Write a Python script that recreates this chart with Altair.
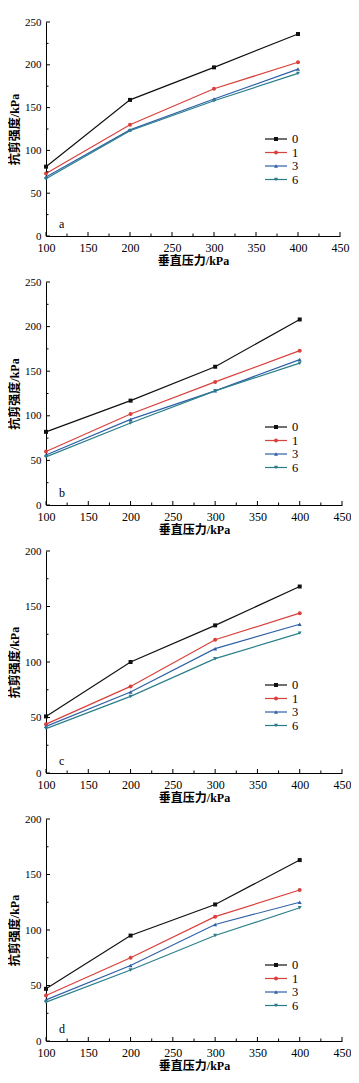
import altair as alt
import pandas as pd

# ---------------- data ----------------
pressure = [100, 200, 300, 400]
series = ["0", "1", "3", "6"]
panel_names = ["a", "b", "c", "d"]

a_s0 = [81, 159, 197, 236]
a_s1 = [73, 130, 172, 203]
a_s3 = [69, 124, 160, 195]
a_s6 = [67, 123, 158, 190]

b_s0 = [82, 117, 155, 208]
b_s1 = [60, 102, 138, 173]
b_s3 = [56, 96, 128, 163]
b_s6 = [54, 92, 128, 159]

c_s0 = [51, 100, 133, 168]
c_s1 = [44, 78, 120, 144]
c_s3 = [42, 73, 112, 134]
c_s6 = [40, 69, 103, 126]

d_s0 = [47, 95, 123, 163]
d_s1 = [41, 75, 112, 136]
d_s3 = [37, 68, 105, 125]
d_s6 = [35, 64, 95, 120]

y_max = [250, 250, 200, 200]
x_ticks = [100, 150, 200, 250, 300, 350, 400, 450]
x_minor = [125, 175, 225, 275, 325, 375, 425]
y_ticks_250 = [0, 50, 100, 150, 200, 250]
y_minor_250 = [25, 75, 125, 175, 225]
y_ticks_200 = [0, 50, 100, 150, 200]
y_minor_200 = [25, 75, 125, 175]

x_title = "垂直压力/kPa"
y_title = "抗剪强度/kPa"

# ---------------- style ----------------
colors = ["#111111", "#d8413c", "#3061a6", "#2a7f8b"]
shapes = ["square", "circle", "triangle-up", "triangle-down"]
FONT = "Liberation Serif"
TFONT = "Liberation Serif, Noto Sans CJK SC"
widths = [294, 296, 296, 296]
heights = [214, 223, 222, 222]
legend_top = [117, 145, 134, 146]
ROW = 13.5


def make_panel(name, vals, ymax, yt, ym, w, h, lt):
    rows = []
    for s, v in zip(series, vals):
        for p, val in zip(pressure, v):
            rows.append({"p": p, "v": val, "s": s})
    df = pd.DataFrame(rows)

    xs = alt.Scale(domain=[100, 450], nice=False, zero=False)
    ys = alt.Scale(domain=[0, ymax], nice=False, zero=True)
    col = alt.Color("s:N", scale=alt.Scale(domain=series, range=colors), legend=None)
    shp = alt.Shape("s:N", scale=alt.Scale(domain=series, range=shapes), legend=None)

    x_enc = alt.X("p:Q", scale=xs, axis=alt.Axis(
        values=x_ticks, format="d", title=x_title, labelFlush=False,
        labelOverlap=False, ticks=False, tickSize=0, labelPadding=6,
        labelFontSize=12, titlePadding=2))
    y_enc = alt.Y("v:Q", scale=ys, axis=alt.Axis(
        values=yt, format="d", title=y_title, ticks=False, tickSize=0,
        labelPadding=5, labelFontSize=11, titlePadding=3, labelOverlap=False))

    base = alt.Chart(df)
    line = base.mark_line(strokeWidth=1.2).encode(x=x_enc, y=y_enc, color=col)
    pts = base.mark_point(filled=True, size=16, opacity=1).encode(
        x=x_enc, y=y_enc, color=col, shape=shp)

    xt = alt.Chart(pd.DataFrame({"p": x_ticks})).mark_rule(
        color="black", strokeWidth=1).encode(
        x=x_enc, y=alt.value(h), y2=alt.value(h - 4))
    xm = alt.Chart(pd.DataFrame({"p": x_minor})).mark_rule(
        color="black", strokeWidth=1).encode(
        x=x_enc, y=alt.value(h), y2=alt.value(h - 2.5))
    yk = alt.Chart(pd.DataFrame({"v": yt})).mark_rule(
        color="black", strokeWidth=1).encode(
        y=y_enc, x=alt.value(0), x2=alt.value(4))
    ymn = alt.Chart(pd.DataFrame({"v": ym})).mark_rule(
        color="black", strokeWidth=1).encode(
        y=y_enc, x=alt.value(0), x2=alt.value(2.5))
    lab = alt.Chart(pd.DataFrame({"lab": [name]})).mark_text(
        font=FONT, fontSize=12, color="black", align="left", baseline="middle"
    ).encode(text="lab:N", x=alt.value(13), y=alt.value(h - 12))

    main = alt.layer(line, pts, xt, xm, yk, ymn, lab)

    ldf = pd.DataFrame({"s": series})
    ly = alt.Y("s:N", scale=alt.Scale(type="point", domain=series,
                                       range=[lt, lt + ROW * 3], padding=0),
               axis=None)
    lbase = alt.Chart(ldf)
    lrule = lbase.mark_rule(strokeWidth=1.2).encode(
        x=alt.value(219), x2=alt.value(241), y=ly, color=col)
    lpt = lbase.mark_point(filled=True, size=16, opacity=1).encode(
        x=alt.value(230), y=ly, color=col, shape=shp)
    ltxt = lbase.mark_text(font=FONT, fontSize=12.5, color="black",
                           align="left", baseline="middle").encode(
        x=alt.value(246), y=ly, text="s:N")
    legend = alt.layer(lrule, lpt, ltxt)

    return alt.layer(main, legend).resolve_scale(y="independent").properties(
        width=w, height=h)


panels = []
all_vals = [
    [a_s0, a_s1, a_s3, a_s6],
    [b_s0, b_s1, b_s3, b_s6],
    [c_s0, c_s1, c_s3, c_s6],
    [d_s0, d_s1, d_s3, d_s6],
]
for i, name in enumerate(panel_names):
    if y_max[i] == 250:
        yt, ym = y_ticks_250, y_minor_250
    else:
        yt, ym = y_ticks_200, y_minor_200
    panels.append(make_panel(name, all_vals[i], y_max[i], yt, ym,
                             widths[i], heights[i], legend_top[i]))

chart = alt.vconcat(*panels, spacing=10).properties(
    padding={"top": 8, "left": 0, "right": 0, "bottom": 0},
    background="white",
).configure_view(stroke=None).configure_axis(
    domainColor="black", domainWidth=1, grid=False,
    labelFont=FONT, labelColor="black",
    titleFont=TFONT, titleFontSize=12, titleFontWeight="bold",
    titleColor="black",
)

chart.save("out.html", embed_options={"renderer": "svg", "actions": False})
